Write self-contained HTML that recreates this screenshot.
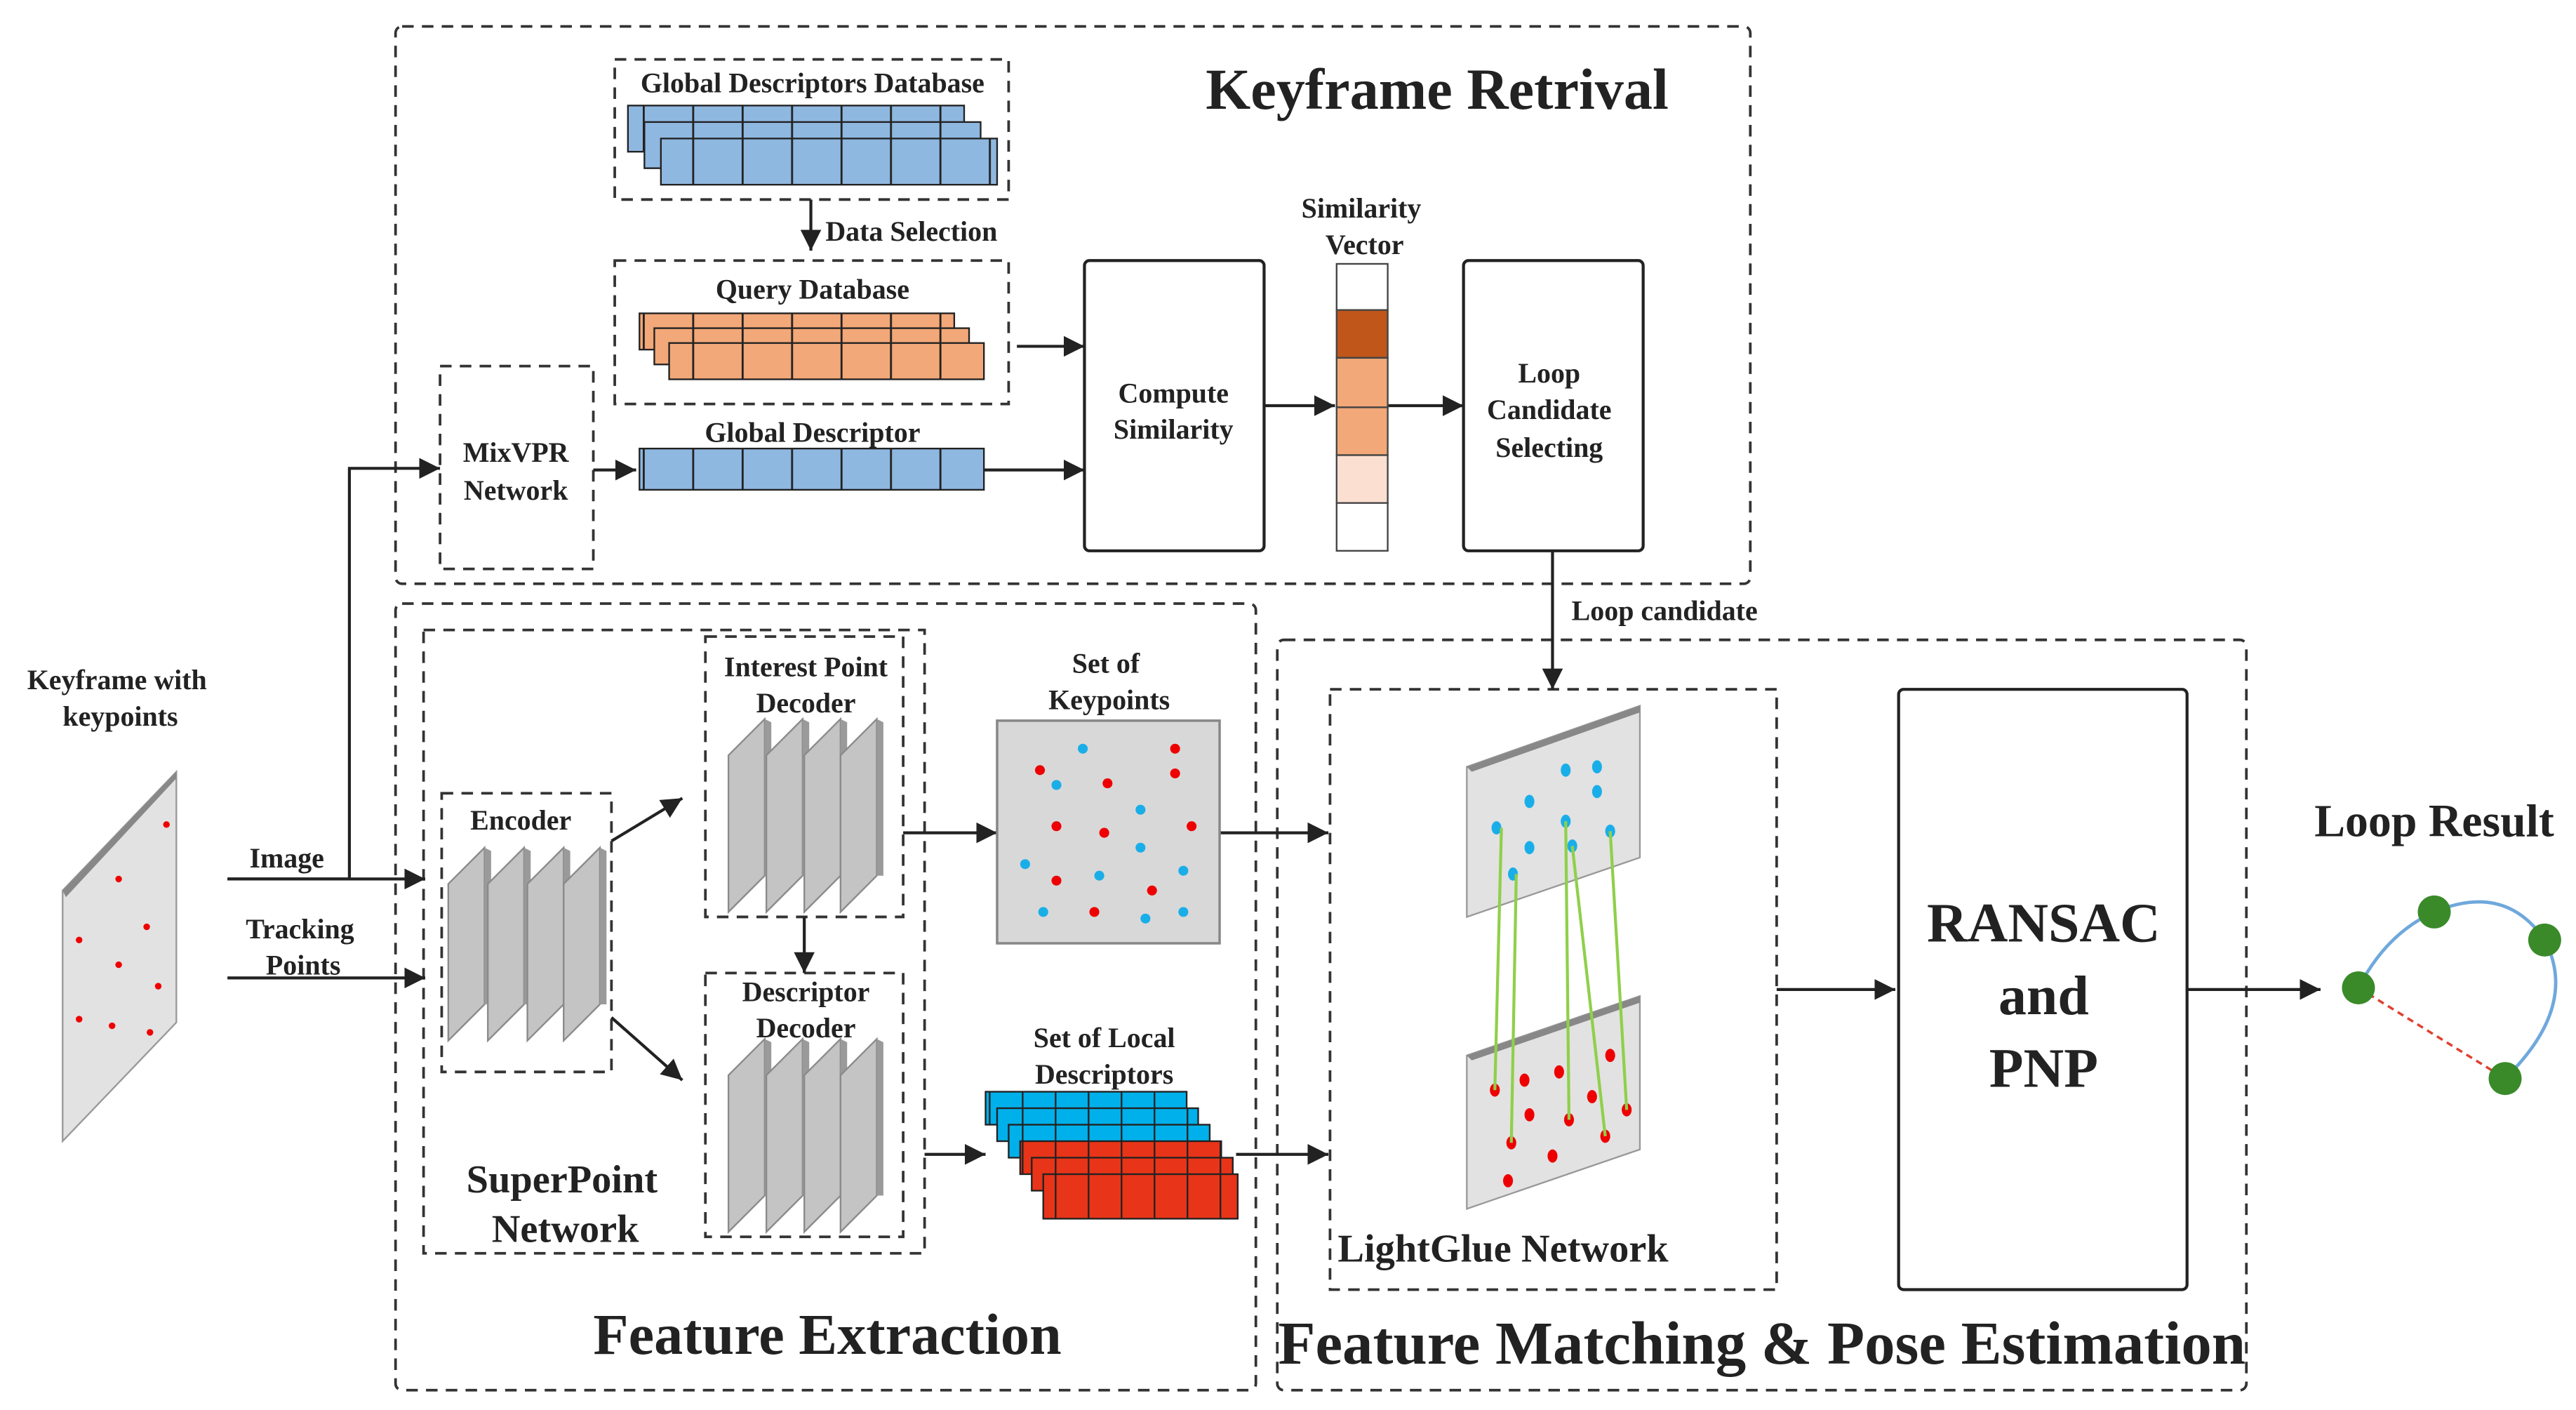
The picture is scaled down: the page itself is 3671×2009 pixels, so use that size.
<!DOCTYPE html>
<html><head><meta charset="utf-8"><style>
html,body{margin:0;padding:0;background:#fff;}
svg{display:block;}
text{font-family:"Liberation Serif",serif;font-weight:bold;fill:#222;text-anchor:middle;}
</style></head><body>
<svg width="3671" height="2009" viewBox="0 0 1563 855" preserveAspectRatio="none" xmlns="http://www.w3.org/2000/svg">
<defs>
<marker id="a" viewBox="0 0 10 10" refX="10" refY="5" markerWidth="7" markerHeight="7" orient="auto"><path d="M0,0L10,5L0,10z" fill="#222"/></marker>
<pattern id="pb" x="0" y="0" width="30" height="100" patternUnits="userSpaceOnUse"><rect width="30" height="100" fill="#8fb8e0"/><rect width="1.2" height="100" fill="#222"/></pattern>
<pattern id="po" x="0" y="0" width="30" height="100" patternUnits="userSpaceOnUse"><rect width="30" height="100" fill="#f2a878"/><rect width="1.2" height="100" fill="#222"/></pattern>
<pattern id="pc" x="0" y="0" width="20" height="100" patternUnits="userSpaceOnUse"><rect width="20" height="100" fill="#00b0ea"/><rect width="1" height="100" fill="#222"/></pattern>
<pattern id="pr" x="0" y="0" width="20" height="100" patternUnits="userSpaceOnUse"><rect width="20" height="100" fill="#e83418"/><rect width="1" height="100" fill="#222"/></pattern>
<g id="slab"><polygon points="0,22 22,0 22,95 0,117" fill="#c4c4c4" stroke="#8a8a8a" stroke-width="1"/><polygon points="22,0 26,2 26,95 22,95" fill="#9a9a9a"/></g>
</defs>
<g fill="none" stroke="#333" stroke-width="1.6" stroke-dasharray="7,5">
<rect x="240" y="16" width="822" height="338" rx="4"/>
<rect x="373" y="36" width="239" height="85"/>
<rect x="373" y="158" width="239" height="87"/>
<rect x="267" y="222" width="93" height="123"/>
<rect x="240" y="366" width="522" height="477" rx="4"/>
<rect x="257" y="382" width="304" height="378"/>
<rect x="268" y="481" width="103" height="169"/>
<rect x="428" y="386" width="120" height="170"/>
<rect x="428" y="590" width="120" height="160"/>
<rect x="775" y="388" width="588" height="455" rx="4"/>
<rect x="807" y="418" width="271" height="364"/>
</g>
<text x="872" y="66" font-size="35">Keyframe Retrival</text>
<text x="493" y="56" font-size="17">Global Descriptors Database</text>
<g stroke="#222" stroke-width="1">
<rect x="381" y="64" width="204" height="28" fill="url(#pb)"/>
<rect x="391" y="74" width="204" height="28" fill="url(#pb)"/>
<rect x="401" y="84" width="204" height="28" fill="url(#pb)"/>
<rect x="388" y="190" width="191" height="22" fill="url(#po)"/>
<rect x="397" y="199" width="191" height="22" fill="url(#po)"/>
<rect x="406" y="208" width="191" height="22" fill="url(#po)"/>
<rect x="388" y="272" width="209" height="25" fill="url(#pb)"/>
</g>
<text x="493" y="181" font-size="17">Query Database</text>
<text x="493" y="268" font-size="17">Global Descriptor</text>
<text x="553" y="146" font-size="17">Data Selection</text>
<text x="313" y="280" font-size="17">MixVPR</text>
<text x="313" y="303" font-size="17">Network</text>
<g stroke="#222" stroke-width="1.8" fill="none" marker-end="url(#a)">
<line x1="492" y1="121" x2="492" y2="152"/>
<line x1="360" y1="285" x2="386" y2="285"/>
<line x1="597" y1="285" x2="658" y2="285"/>
<line x1="617" y1="210" x2="658" y2="210"/>
<line x1="767" y1="246" x2="810" y2="246"/>
<line x1="842" y1="246" x2="888" y2="246"/>
<line x1="942" y1="334" x2="942" y2="418"/>
<polyline points="138,533 212,533 212,284 267,284" marker-end="url(#a)"/>
<line x1="138" y1="533" x2="258" y2="533"/>
<line x1="138" y1="593" x2="258" y2="593"/>
<line x1="371" y1="510" x2="414" y2="484"/>
<line x1="371" y1="617" x2="414" y2="655"/>
<line x1="488" y1="556" x2="488" y2="590"/>
<line x1="548" y1="505" x2="605" y2="505"/>
<line x1="740" y1="505" x2="806" y2="505"/>
<line x1="561" y1="700" x2="598" y2="700"/>
<line x1="750" y1="700" x2="806" y2="700"/>
<line x1="1078" y1="600" x2="1150" y2="600"/>
<line x1="1327" y1="600" x2="1408" y2="600"/>
</g>
<g fill="#fff" stroke="#222" stroke-width="1.8">
<rect x="658" y="158" width="109" height="176" rx="3"/>
<rect x="888" y="158" width="109" height="176" rx="3"/>
<rect x="1152" y="418" width="175" height="364" rx="3"/>
</g>
<text x="712" y="244" font-size="17">Compute</text>
<text x="712" y="266" font-size="17">Similarity</text>
<text x="940" y="232" font-size="17">Loop</text>
<text x="940" y="254" font-size="17">Candidate</text>
<text x="940" y="277" font-size="17">Selecting</text>
<text x="826" y="132" font-size="17">Similarity</text>
<text x="828" y="154" font-size="17">Vector</text>
<g stroke="#444" stroke-width="1">
<rect x="811" y="160" width="31" height="28" fill="#fff"/>
<rect x="811" y="188" width="31" height="29" fill="#c0561a"/>
<rect x="811" y="217" width="31" height="30" fill="#f2a878"/>
<rect x="811" y="247" width="31" height="29" fill="#f2a878"/>
<rect x="811" y="276" width="31" height="29" fill="#fbe0d2"/>
<rect x="811" y="305" width="31" height="29" fill="#fff"/>
</g>
<text x="1010" y="376" font-size="17">Loop candidate</text>
<text x="71" y="418" font-size="17">Keyframe with</text>
<text x="73" y="440" font-size="17">keypoints</text>
<polygon points="38,540 107,468 107,620 38,692" fill="#e2e2e2" stroke="#999"/>
<polygon points="38,540 107,468 107,472 40,544" fill="#888"/>
<g fill="#e00">
<circle cx="101" cy="500" r="2"/><circle cx="72" cy="533" r="2"/><circle cx="89" cy="562" r="2"/><circle cx="48" cy="570" r="2"/><circle cx="72" cy="585" r="2"/><circle cx="96" cy="598" r="2"/><circle cx="48" cy="618" r="2"/><circle cx="68" cy="622" r="2"/><circle cx="91" cy="626" r="2"/>
</g>
<text x="174" y="526" font-size="17">Image</text>
<text x="182" y="569" font-size="17">Tracking</text>
<text x="184" y="591" font-size="17">Points</text>
<text x="316" y="503" font-size="17">Encoder</text>
<use href="#slab" x="272" y="514"/><use href="#slab" x="296" y="514"/><use href="#slab" x="320" y="514"/><use href="#slab" x="342" y="514"/>
<text x="489" y="410" font-size="17">Interest Point</text>
<text x="489" y="432" font-size="17">Decoder</text>
<use href="#slab" x="442" y="436"/><use href="#slab" x="465" y="436"/><use href="#slab" x="488" y="436"/><use href="#slab" x="510" y="436"/>
<text x="489" y="607" font-size="17">Descriptor</text>
<text x="489" y="629" font-size="17">Decoder</text>
<use href="#slab" x="442" y="630"/><use href="#slab" x="465" y="630"/><use href="#slab" x="488" y="630"/><use href="#slab" x="510" y="630"/>
<text x="341" y="723" font-size="24">SuperPoint</text>
<text x="343" y="753" font-size="24">Network</text>
<text x="502" y="821" font-size="35">Feature Extraction</text>
<text x="671" y="408" font-size="17">Set of</text>
<text x="673" y="430" font-size="17">Keypoints</text>
<rect x="605" y="437" width="135" height="135" fill="#d8d8d8" stroke="#888" stroke-width="1.5"/>
<g fill="#e00"><circle cx="631" cy="467" r="3"/><circle cx="713" cy="454" r="3"/><circle cx="713" cy="469" r="3"/><circle cx="672" cy="475" r="3"/><circle cx="641" cy="501" r="3"/><circle cx="670" cy="505" r="3"/><circle cx="723" cy="501" r="3"/><circle cx="641" cy="534" r="3"/><circle cx="699" cy="540" r="3"/><circle cx="664" cy="553" r="3"/></g>
<g fill="#1aaee8"><circle cx="657" cy="454" r="3"/><circle cx="641" cy="476" r="3"/><circle cx="692" cy="491" r="3"/><circle cx="692" cy="514" r="3"/><circle cx="622" cy="524" r="3"/><circle cx="667" cy="531" r="3"/><circle cx="718" cy="528" r="3"/><circle cx="633" cy="553" r="3"/><circle cx="695" cy="557" r="3"/><circle cx="718" cy="553" r="3"/></g>
<text x="670" y="635" font-size="17">Set of Local</text>
<text x="670" y="657" font-size="17">Descriptors</text>
<g stroke="#222" stroke-width="1">
<rect x="598" y="662" width="122" height="20" fill="url(#pc)"/>
<rect x="605" y="672" width="122" height="20" fill="url(#pc)"/>
<rect x="612" y="682" width="122" height="20" fill="url(#pc)"/>
<rect x="619" y="692" width="122" height="20" fill="url(#pr)"/>
<rect x="626" y="702" width="122" height="20" fill="url(#pr)"/>
<rect x="633" y="712" width="118" height="27" fill="url(#pr)"/>
</g>
<polygon points="890,465 995,428 995,520 890,556" fill="#e2e2e2" stroke="#999"/>
<polygon points="890,465 995,428 995,432 893,468" fill="#888"/>
<polygon points="890,640 995,604 995,697 890,733" fill="#e2e2e2" stroke="#999"/>
<polygon points="890,640 995,604 995,608 893,643" fill="#888"/>
<g fill="#1aaee8"><ellipse cx="950" cy="467" rx="3" ry="4"/><ellipse cx="969" cy="465" rx="3" ry="4"/><ellipse cx="969" cy="480" rx="3" ry="4"/><ellipse cx="928" cy="486" rx="3" ry="4"/><ellipse cx="908" cy="502" rx="3" ry="4"/><ellipse cx="950" cy="498" rx="3" ry="4"/><ellipse cx="977" cy="504" rx="3" ry="4"/><ellipse cx="928" cy="514" rx="3" ry="4"/><ellipse cx="954" cy="513" rx="3" ry="4"/><ellipse cx="918" cy="530" rx="3" ry="4"/></g>
<g fill="#e00"><ellipse cx="977" cy="640" rx="3" ry="4"/><ellipse cx="946" cy="650" rx="3" ry="4"/><ellipse cx="925" cy="655" rx="3" ry="4"/><ellipse cx="907" cy="661" rx="3" ry="4"/><ellipse cx="966" cy="665" rx="3" ry="4"/><ellipse cx="928" cy="676" rx="3" ry="4"/><ellipse cx="987" cy="673" rx="3" ry="4"/><ellipse cx="952" cy="679" rx="3" ry="4"/><ellipse cx="974" cy="689" rx="3" ry="4"/><ellipse cx="917" cy="693" rx="3" ry="4"/><ellipse cx="942" cy="701" rx="3" ry="4"/><ellipse cx="915" cy="716" rx="3" ry="4"/></g>
<g stroke="#8fd04a" stroke-width="1.8">
<line x1="911" y1="502" x2="907" y2="661"/><line x1="920" y1="530" x2="917" y2="693"/><line x1="950" y1="498" x2="952" y2="679"/><line x1="954" y1="513" x2="974" y2="689"/><line x1="977" y1="504" x2="987" y2="673"/>
</g>
<text x="912" y="765" font-size="24" font-weight="normal">LightGlue Network</text>
<text x="1069" y="827" font-size="37">Feature Matching &amp; Pose Estimation</text>
<text x="1240" y="571" font-size="34">RANSAC</text>
<text x="1240" y="615" font-size="34">and</text>
<text x="1240" y="659" font-size="34">PNP</text>
<text x="1477" y="507" font-size="28">Loop Result</text>
<path d="M1431,599 Q1448,566 1477,553 Q1520,535 1544,570 Q1565,610 1520,654" fill="none" stroke="#6fa8dc" stroke-width="2"/>
<line x1="1431" y1="599" x2="1520" y2="654" stroke="#e04030" stroke-width="1.5" stroke-dasharray="4,3"/>
<g fill="#3a8a2a"><circle cx="1431" cy="599" r="10"/><circle cx="1477" cy="553" r="10"/><circle cx="1544" cy="570" r="10"/><circle cx="1520" cy="654" r="10"/></g>
</svg>
</body></html>
